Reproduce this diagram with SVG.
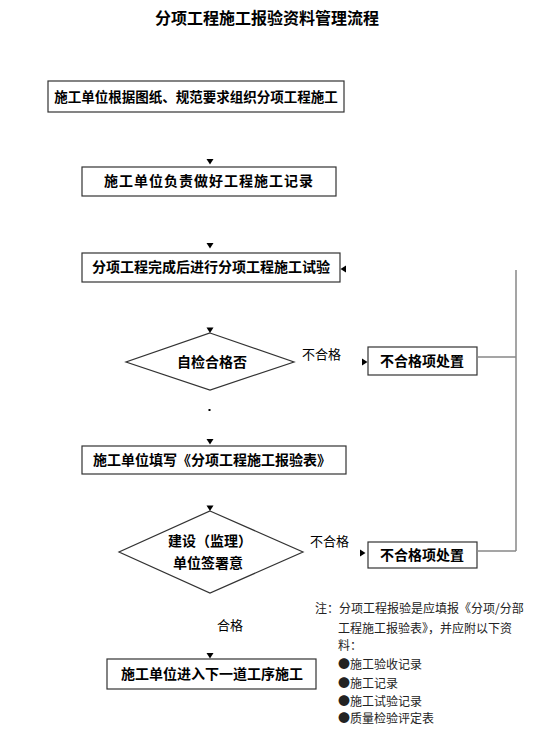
<svg xmlns="http://www.w3.org/2000/svg" width="555" height="742" viewBox="0 0 555 742">
<style>
.box{fill:#fff;stroke:#333;stroke-width:1.2}
.bt{font-family:"Noto Sans CJK SC","Liberation Sans",sans-serif;font-size:14px;font-weight:bold;fill:#000;text-anchor:middle}
.lb{font-family:"Noto Sans CJK SC","Liberation Sans",sans-serif;font-size:13px;fill:#000}
.nt{font-family:"Noto Sans CJK SC","Liberation Sans",sans-serif;font-size:12px;fill:#222}
.ln{fill:none;stroke:#888;stroke-width:1.5}
.ar{fill:#000}
</style>
<rect width="555" height="742" fill="#fff"/>
<text x="267" y="24" font-family="'Noto Sans CJK SC',sans-serif" font-size="16" font-weight="bold" text-anchor="middle">分项工程施工报验资料管理流程</text>
<g id="n1"><rect class="box" x="48" y="81" width="296" height="31"/><text class="bt" x="196" y="102" style="font-size:13.5px">施工单位根据图纸、规范要求组织分项工程施工</text></g>
<g id="n2"><rect class="box" x="82" y="167" width="254" height="29"/><text class="bt" x="209" y="186" letter-spacing="1">施工单位负责做好工程施工记录</text></g>
<g id="n3"><rect class="box" x="82" y="253" width="258" height="29"/><text class="bt" x="211" y="272">分项工程完成后进行分项工程施工试验</text></g>
<g id="d1"><polygon class="box" points="210,333 294,362 210,390 126,362"/><text class="bt" x="212" y="367">自检合格否</text></g>
<g id="ng1"><rect class="box" x="368" y="347" width="109" height="28"/><text class="bt" x="422" y="366">不合格项处置</text></g>
<g id="n4"><rect class="box" x="82" y="446" width="264" height="28"/><text class="bt" x="212" y="465">施工单位填写《分项工程施工报验表》</text></g>
<g id="d2"><polygon class="box" points="210,511 303,552 210,593 119,552"/><text class="bt" x="210" y="546">建设（监理）</text><text class="bt" x="208" y="568">单位签署意</text></g>
<g id="ng2"><rect class="box" x="368" y="542" width="109" height="26"/><text class="bt" x="422" y="560">不合格项处置</text></g>
<g id="n6"><rect class="box" x="107" y="659" width="209" height="30"/><text class="bt" x="212" y="679">施工单位进入下一道工序施工</text></g>
<g id="connectors">
<path class="ln" d="M477,357 H516 M477,551 H516 M516,270 V551"/>
<path class="ar" d="M206.5,159 h7 l-3.5,5.5 z"/>
<path class="ar" d="M206.5,243 h7 l-3.5,5.5 z"/>
<path class="ar" d="M206.5,327.5 h7 l-3.5,5.5 z"/>
<path class="ar" d="M206.5,439 h7 l-3.5,5.5 z"/>
<path class="ar" d="M206.5,505.5 h7 l-3.5,5.5 z"/>
<path class="ar" d="M206.5,653 h7 l-3.5,5.5 z"/>
<path class="ar" d="M346,265.5 v7 l-5.5,-3.5 z"/>
<path class="ar" d="M362,358.5 v7 l5.5,-3.5 z"/>
<path class="ar" d="M360,549.5 v7 l5.5,-3.5 z"/>
<rect class="ar" x="208.5" y="409" width="2" height="2"/>
</g>
<text class="lb" x="302" y="359">不合格</text>
<text class="lb" x="310" y="546">不合格</text>
<text class="lb" x="217" y="630">合格</text>
<g id="note">
<text class="nt" x="315" y="613">注：分项工程报验是应填报《分项/分部</text>
<text class="nt" x="338" y="633">工程施工报验表》，并应附以下资</text>
<text class="nt" x="338" y="650">料：</text>
<text class="nt" x="338" y="669">●施工验收记录</text>
<text class="nt" x="338" y="688">●施工记录</text>
<text class="nt" x="338" y="706">●施工试验记录</text>
<text class="nt" x="338" y="723">●质量检验评定表</text>
</g>
</svg>
